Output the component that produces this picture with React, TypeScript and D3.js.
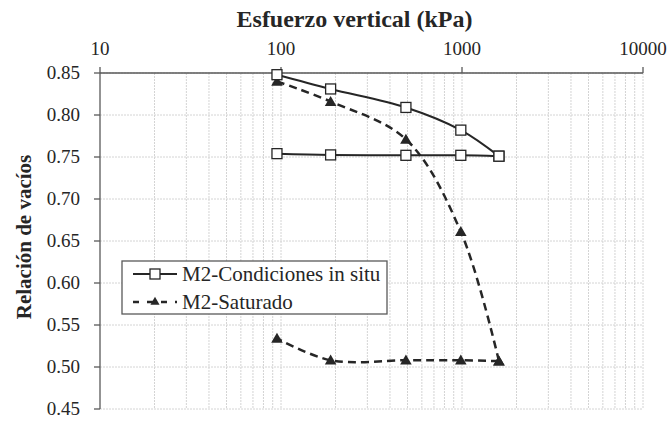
import React from 'react';
import * as d3 from 'd3';

// esfuerzo vertical (kPa): rama de carga y rama de descarga
const stressLoad = [95, 188, 490, 985, 1600];
const stressUnload = [1600, 985, 490, 188, 95];
const inSituLoad = [0.848, 0.831, 0.809, 0.782, 0.751];
const inSituUnload = [0.751, 0.752, 0.752, 0.7525, 0.754];
const saturadoLoad = [0.840, 0.816, 0.771, 0.661, 0.507];
const saturadoUnload = [0.507, 0.508, 0.508, 0.508, 0.534];

const xTicks = [10, 100, 1000, 10000];
const yTicks = [0.45, 0.5, 0.55, 0.6, 0.65, 0.7, 0.75, 0.8, 0.85];

const seriesNames = ['M2-Condiciones in situ', 'M2-Saturado'];

const width = 670;
const height = 421;
const margin = { top: 73, right: 27, bottom: 12, left: 100 };
const font = 'Liberation Serif';
const ink = '#262626';

const App = () => {
  const innerWidth = width - margin.left - margin.right;
  const innerHeight = height - margin.top - margin.bottom;

  const x = d3.scaleLog().domain([10, 10000]).range([0, innerWidth]);
  const y = d3.scaleLinear().domain([0.45, 0.85]).range([innerHeight, 0]);

  const minor: number[] = [];
  [10, 100, 1000].forEach(d => {
    for (let k = 2; k <= 10; k++) minor.push(d * k);
  });

  const line = d3.line<[number, number]>()
    .x(d => x(d[0]))
    .y(d => y(d[1]))
    .curve(d3.curveCatmullRom.alpha(0.5));

  const zip = (xs: number[], ys: number[]): [number, number][] => xs.map((s, i) => [s, ys[i]]);
  const inSitu = [zip(stressLoad, inSituLoad), zip(stressUnload, inSituUnload)];
  const saturado = [zip(stressLoad, saturadoLoad), zip(stressUnload, saturadoUnload)];
  const tri = d3.symbol(d3.symbolTriangle, 58)();

  return (
    <svg width={width} height={height} style={{ position: 'absolute', left: 0, top: 0, background: '#fff' }}>
      <g transform={`translate(${margin.left},${margin.top})`}>
        {/* grid */}
        {minor.map(t => (
          <line key={`gx-${t}`} x1={x(t)} x2={x(t)} y1={0} y2={innerHeight}
            stroke="#d4d4d4" strokeWidth={1} strokeDasharray="2,1" />
        ))}
        {yTicks.map(t => (
          <line key={`gy-${t}`} x1={0} x2={innerWidth} y1={y(t)} y2={y(t)}
            stroke="#d4d4d4" strokeWidth={1} strokeDasharray="2,1" />
        ))}

        {/* axes */}
        <line x1={0} x2={innerWidth} y1={0} y2={0} stroke="#595959" strokeWidth={1.3} />
        <line x1={0} x2={0} y1={0} y2={innerHeight} stroke="#595959" strokeWidth={1.3} />
        {xTicks.map(t => (
          <g key={`xt-${t}`} transform={`translate(${x(t)},0)`}>
            <line y1={0} y2={-6} stroke="#595959" strokeWidth={1.3} />
            <text y={-18} textAnchor="middle" fontFamily={font} fontSize={19} fill={ink}>{t}</text>
          </g>
        ))}
        {yTicks.map(t => (
          <g key={`yt-${t}`} transform={`translate(0,${y(t)})`}>
            <line x1={0} x2={-6} stroke="#595959" strokeWidth={1.3} />
            <text x={-20} dy="0.33em" textAnchor="end" fontFamily={font} fontSize={19} fill={ink}>{t.toFixed(2)}</text>
          </g>
        ))}

        {/* series */}
        {inSitu.map((seg, i) => (
          <path key={`ls-${i}`} d={line(seg) ?? ''} fill="none" stroke={ink} strokeWidth={2} />
        ))}
        {saturado.map((seg, i) => (
          <path key={`ld-${i}`} d={line(seg) ?? ''} fill="none" stroke={ink} strokeWidth={2.5} strokeDasharray="8,5" />
        ))}
        {saturado.flat().map((d, i) => (
          <path key={`tr-${i}`} d={tri ?? ''} transform={`translate(${x(d[0])},${y(d[1]) + 1})`} fill={ink} />
        ))}
        {inSitu.flat().map((d, i) => (
          <rect key={`sq-${i}`} x={x(d[0]) - 5} y={y(d[1]) - 5} width={10} height={10}
            fill="#fff" stroke={ink} strokeWidth={1.3} />
        ))}

        {/* legend */}
        <g transform={`translate(${122 - margin.left},${261 - margin.top})`}>
          <rect x={0} y={0} width={265} height={53} fill="#fff" stroke="#595959" strokeWidth={1.3} />
          <line x1={11} x2={55} y1={13} y2={13} stroke={ink} strokeWidth={2} />
          <rect x={28} y={8} width={10} height={10} fill="#fff" stroke={ink} strokeWidth={1.3} />
          <text x={60} y={13} dy="0.35em" fontFamily={font} fontSize={21} fill={ink}>{seriesNames[0]}</text>
          <line x1={11} x2={55} y1={41} y2={41} stroke={ink} strokeWidth={2.5} strokeDasharray="6,8" />
          <path d={d3.symbol(d3.symbolTriangle, 36)() ?? ''} transform="translate(33,41)" fill={ink} />
          <text x={60} y={41} dy="0.35em" fontFamily={font} fontSize={21} fill={ink}>{seriesNames[1]}</text>
        </g>

        {/* axis titles */}
        <text x={innerWidth / 2 - 17} y={-46} textAnchor="middle" fontFamily={font} fontSize={24} fontWeight="bold" fill={ink}>
          Esfuerzo vertical (kPa)
        </text>
        <text transform={`translate(${-69},${innerHeight / 2 - 4}) rotate(-90)`} textAnchor="middle"
          fontFamily={font} fontSize={21} fontWeight="bold" fill={ink}>
          Relación de vacíos
        </text>
      </g>
    </svg>
  );
};

export default App;
